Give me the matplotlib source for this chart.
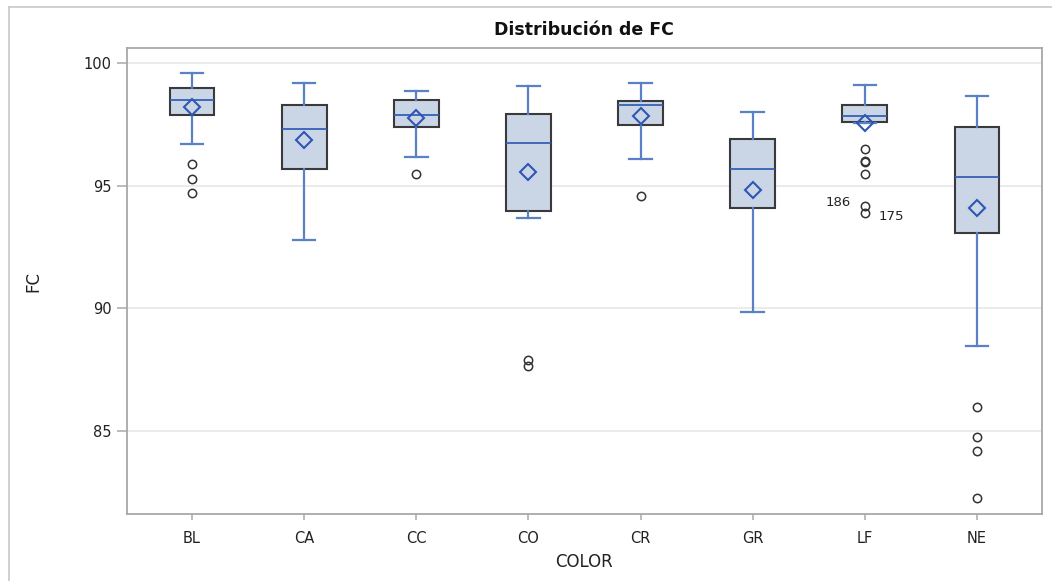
import matplotlib.pyplot as plt
from matplotlib.lines import Line2D

plt.rcParams["font.family"] = ["DejaVu Sans"]

colors = ["BL", "CA", "CC", "CO", "CR", "GR", "LF", "NE"]

# summary statistics per COLOR group
whisker_low = [96.69, 92.79, 96.19, 93.67, 96.09, 89.86, 97.55, 88.47]
q1 = [97.89, 95.69, 97.39, 93.98, 97.49, 94.08, 97.60, 93.09]
median = [98.49, 97.31, 97.90, 96.73, 98.29, 95.69, 97.84, 95.35]
q3 = [98.98, 98.29, 98.49, 97.94, 98.47, 96.90, 98.29, 97.39]
whisker_high = [99.59, 99.18, 98.88, 99.09, 99.20, 98.00, 99.10, 98.68]
means = [98.23, 96.88, 97.76, 95.58, 97.85, 94.84, 97.55, 94.11]
outliers = [
    [95.88, 95.29, 94.69],
    [],
    [95.48],
    [87.88, 87.66],
    [94.58],
    [],
    [96.49, 96.00, 95.96, 95.48, 94.19, 93.88],
    [85.96, 84.76, 84.16, 82.26],
]

# labelled outliers: (group, value, id)
labelled = [("LF", 94.19, "186"), ("LF", 93.88, "175")]

yticks = [85, 90, 95, 100]

stats = []
for i, c in enumerate(colors):
    stats.append({
        "label": c,
        "whislo": whisker_low[i],
        "q1": q1[i],
        "med": median[i],
        "q3": q3[i],
        "whishi": whisker_high[i],
        "mean": means[i],
        "fliers": outliers[i],
    })

fig = plt.figure(figsize=(10.52, 5.81), dpi=100)
ax = fig.add_axes([0.1207, 0.1153, 0.8698, 0.8021])

# outer frame of the graph
frame_col = "#c8c8c8"
fig.add_artist(Line2D([9 / 1052, 1.0], [1 - 7 / 581] * 2, color=frame_col, lw=1.2))
fig.add_artist(Line2D([9 / 1052] * 2, [0.0, 1 - 7 / 581], color=frame_col, lw=1.2))

ax.bxp(
    stats,
    positions=range(len(colors)),
    widths=0.40,
    capwidths=0.2,
    patch_artist=True,
    showmeans=True,
    boxprops=dict(facecolor="#cad5e6", edgecolor="#3a3a3a", linewidth=1.5),
    medianprops=dict(color="#3560b8", linewidth=1.3),
    whiskerprops=dict(color="#5a80c8", linewidth=1.6),
    capprops=dict(color="#5a80c8", linewidth=1.6),
    meanprops=dict(marker="D", markerfacecolor="none", markeredgecolor="#2f55b5",
                   markeredgewidth=1.5, markersize=8.5),
    flierprops=dict(marker="o", markerfacecolor="none", markeredgecolor="#333333",
                    markeredgewidth=1.1, markersize=6),
    zorder=3,
)

for grp, val, txt in labelled:
    x = colors.index(grp)
    if txt == "186":
        ax.annotate(txt, (x, val), xytext=(-10, 2), textcoords="offset points",
                    ha="right", va="center", fontsize=9.5, color="#222222")
    else:
        ax.annotate(txt, (x, val), xytext=(10, -2), textcoords="offset points",
                    ha="left", va="center", fontsize=9.5, color="#222222")

ax.set_xlim(-0.58, 7.58)
ax.set_ylim(81.6, 100.63)
ax.set_yticks(yticks)
ax.set_xticks(range(len(colors)))
ax.set_xticklabels(colors)
ax.yaxis.grid(True, color="#e8e8e8", linewidth=1.2)
ax.set_axisbelow(True)

for s in ax.spines.values():
    s.set_color("#a8a8a8")
    s.set_linewidth(1.3)

ax.tick_params(axis="y", length=7, width=1.2, color="#b0b0b0", pad=4,
               labelsize=10.5, labelcolor="#222222")
ax.tick_params(axis="x", length=4, width=1.2, color="#b0b0b0", pad=8,
               labelsize=10.5, labelcolor="#222222")

ax.set_xlabel("COLOR", fontsize=12, color="#222222", labelpad=5)
ax.set_ylabel("FC", fontsize=12, color="#222222", labelpad=30)

fig.text(0.555, 1 - 30 / 581, "Distribución de FC", ha="center", va="center",
         fontsize=12.5, fontweight="bold", color="#111111")

fig.savefig("out.png", dpi=100)
